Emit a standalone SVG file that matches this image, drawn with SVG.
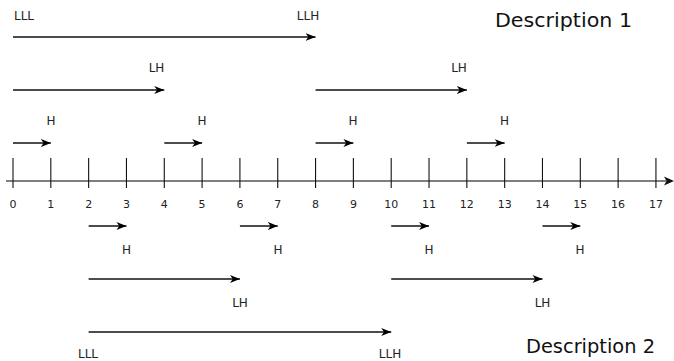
<svg xmlns="http://www.w3.org/2000/svg" width="674" height="361" viewBox="0 0 674 361">
<style>
.lbl{font-family:"DejaVu Sans",sans-serif;font-size:12px;fill:#222;text-anchor:middle}
.num{font-family:"DejaVu Sans",sans-serif;font-size:11px;fill:#222;text-anchor:middle}
.desc{font-family:"DejaVu Sans",sans-serif;font-size:19px;fill:#111}
.arr{stroke:#111;stroke-width:1.3;fill:none;marker-end:url(#ah)}
.tick{stroke:#111;stroke-width:1.1}
</style>
<defs>
<marker id="ah" markerUnits="userSpaceOnUse" markerWidth="11" markerHeight="9" refX="10" refY="4" orient="auto">
<path d="M0,0 L10,4 L0,8 L2.8,4 z" fill="#000"/>
</marker>
</defs>
<g id="axis">
<line x1="6" y1="181" x2="666" y2="181" stroke="#555" stroke-width="1.4"/>
<path d="M674,181 L664,176.5 L666.5,181 L664,185.5 z" fill="#111"/>
<g class="tick">
<line x1="13" y1="158" x2="13" y2="188"/>
<line x1="50.82" y1="158" x2="50.82" y2="188"/>
<line x1="88.64" y1="158" x2="88.64" y2="188"/>
<line x1="126.46" y1="158" x2="126.46" y2="188"/>
<line x1="164.28" y1="158" x2="164.28" y2="188"/>
<line x1="202.1" y1="158" x2="202.1" y2="188"/>
<line x1="239.92" y1="158" x2="239.92" y2="188"/>
<line x1="277.74" y1="158" x2="277.74" y2="188"/>
<line x1="315.56" y1="158" x2="315.56" y2="188"/>
<line x1="353.38" y1="158" x2="353.38" y2="188"/>
<line x1="391.2" y1="158" x2="391.2" y2="188"/>
<line x1="429.02" y1="158" x2="429.02" y2="188"/>
<line x1="466.84" y1="158" x2="466.84" y2="188"/>
<line x1="504.66" y1="158" x2="504.66" y2="188"/>
<line x1="542.48" y1="158" x2="542.48" y2="188"/>
<line x1="580.3" y1="158" x2="580.3" y2="188"/>
<line x1="618.12" y1="158" x2="618.12" y2="188"/>
<line x1="655.94" y1="158" x2="655.94" y2="188"/>
</g>
<g class="num">
<text x="13" y="208">0</text>
<text x="50.82" y="208">1</text>
<text x="88.64" y="208">2</text>
<text x="126.46" y="208">3</text>
<text x="164.28" y="208">4</text>
<text x="202.1" y="208">5</text>
<text x="239.92" y="208">6</text>
<text x="277.74" y="208">7</text>
<text x="315.56" y="208">8</text>
<text x="353.38" y="208">9</text>
<text x="391.2" y="208">10</text>
<text x="429.02" y="208">11</text>
<text x="466.84" y="208">12</text>
<text x="504.66" y="208">13</text>
<text x="542.48" y="208">14</text>
<text x="580.3" y="208">15</text>
<text x="618.12" y="208">16</text>
<text x="655.94" y="208">17</text>
</g>
</g>
<g id="connectors">
<line class="arr" x1="13" y1="37" x2="315.56" y2="37"/>
<line class="arr" x1="13" y1="90" x2="164.28" y2="90"/>
<line class="arr" x1="315.56" y1="90" x2="466.84" y2="90"/>
<line class="arr" x1="13" y1="143" x2="50.82" y2="143"/>
<line class="arr" x1="164.28" y1="143" x2="202.1" y2="143"/>
<line class="arr" x1="315.56" y1="143" x2="353.38" y2="143"/>
<line class="arr" x1="466.84" y1="143" x2="504.66" y2="143"/>
<line class="arr" x1="88.64" y1="226" x2="126.46" y2="226"/>
<line class="arr" x1="239.92" y1="226" x2="277.74" y2="226"/>
<line class="arr" x1="391.2" y1="226" x2="429.02" y2="226"/>
<line class="arr" x1="542.48" y1="226" x2="580.3" y2="226"/>
<line class="arr" x1="88.64" y1="279" x2="239.92" y2="279"/>
<line class="arr" x1="391.2" y1="279" x2="542.48" y2="279"/>
<line class="arr" x1="88.64" y1="332" x2="391.2" y2="332"/>
</g>
<g id="labels-top" class="lbl">
<text x="24" y="20">LLL</text>
<text x="308" y="20">LLH</text>
<text x="156.5" y="72">LH</text>
<text x="459" y="72">LH</text>
<text x="51" y="125">H</text>
<text x="202" y="125">H</text>
<text x="353" y="125">H</text>
<text x="504.5" y="125">H</text>
</g>
<g id="labels-bottom" class="lbl">
<text x="126.5" y="254">H</text>
<text x="278" y="254">H</text>
<text x="429" y="254">H</text>
<text x="580" y="254">H</text>
<text x="240" y="307">LH</text>
<text x="542.5" y="307">LH</text>
<text x="88" y="358">LLL</text>
<text x="390" y="358">LLH</text>
</g>
<g id="desc1"><text class="desc" x="495" y="27" textLength="137" lengthAdjust="spacingAndGlyphs">Description 1</text></g>
<g id="desc2"><text class="desc" x="526" y="353" textLength="129" lengthAdjust="spacingAndGlyphs">Description 2</text></g>
</svg>
